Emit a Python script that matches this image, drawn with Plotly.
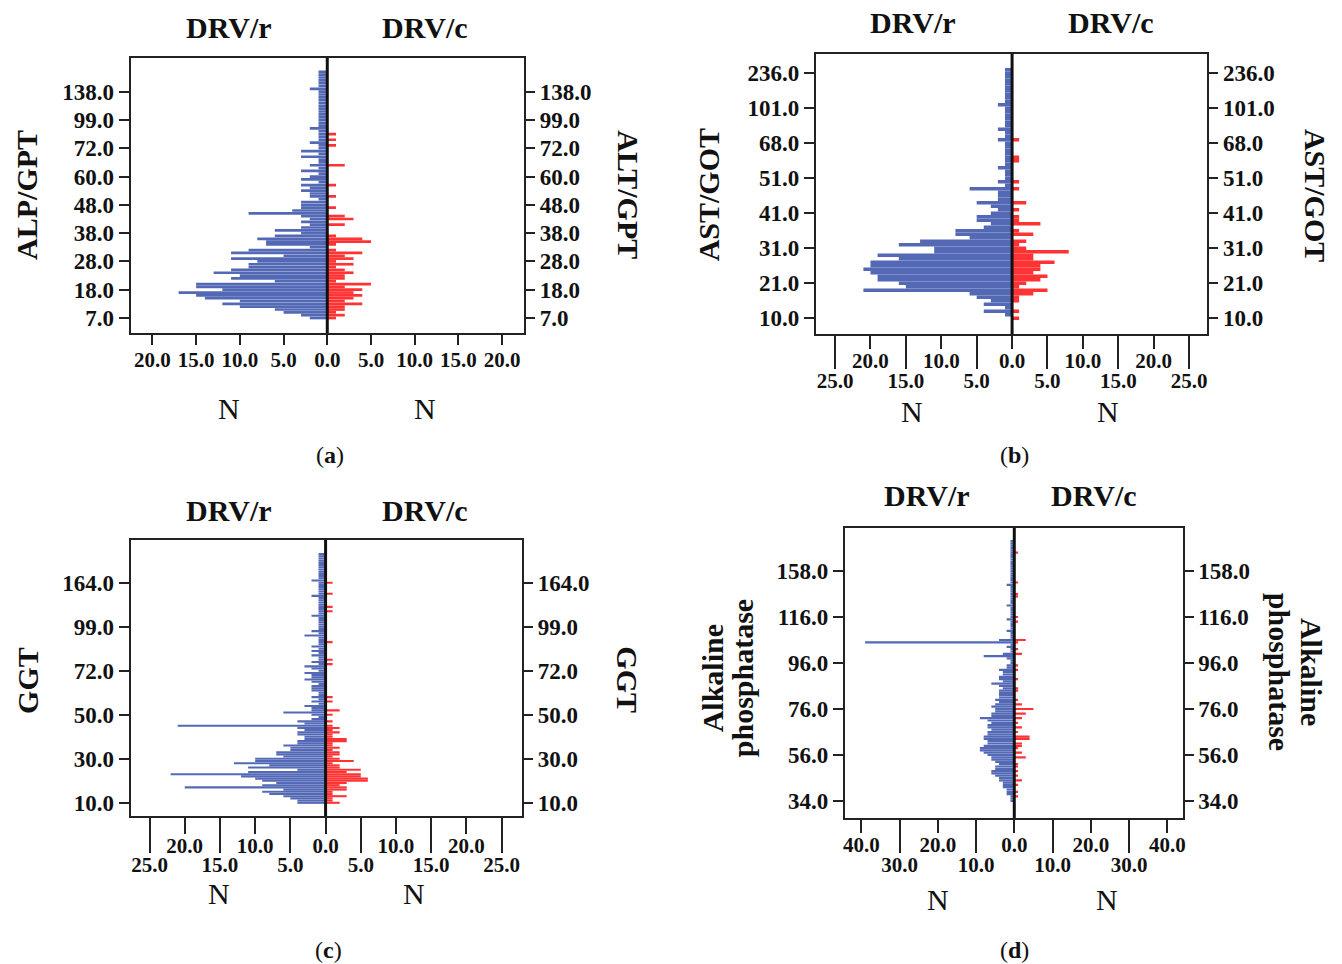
import plotly.graph_objects as go

# ---------------- data (bin index 0 = lowest category) ----------------
# Panel (a) ALT/GPT
A_BLUE = [2,3,5,6,10,12,10,14,15,17, 12,15,15,6,11,10,13,11,9,9,
          8,11,5,11,9,2,7,7,8,6, 3,6,3,2,3,2,3,9,4,3,
          3,3,1,2,2,3,2,3,1,3, 2,1,3,1,2,1,1,3,1,3,
          1,1,2,1,1,1,1,2,1,1, 1,1,1,1,1,1,1,1,1,1,
          1,2,1,1,1,1,1,1]
A_RED = [1,2,1,2,2,4,2,3,4,3, 4,2,5,1,2,2,3,2,1,3,
         1,3,2,4,1,0,1,5,4,1, 0,0,0,2,0,3,2,0,0,1,
         0,0,0,1,0,0,0,1,0,0, 0,0,0,0,2,0,0,0,0,0,
         0,1,0,1,0,1,0,0,0,0, 0,0,0,0,0,0,0,0,0,0,
         0,0,0,0,0,0,0,0]
A_YTICK_IDX = [0,10,20,30,40,50,60,70,80]
A_YTICK_TXT = ["7.0","18.0","28.0","38.0","48.0","60.0","72.0","99.0","138.0"]

# Panel (b) AST/GOT
B_BLUE = [0,1,4,1,4,3,5,6,21,15, 16,19,19,20,21,20,20,16,19,11,
          11,16,13,6,8,8,4,3,5,5, 3,2,3,5,2,2,2,6,1,2,
          1,1,1,2,1,1,1,1,1,1, 1,2,1,1,2,1,1,1,1,1,
          1,2,1,1,1,1,1,1,1,1, 1,1]
B_RED = [1,0,1,0,0,1,1,3,5,1, 2,4,5,3,4,4,6,3,3,8,
         2,1,2,0,3,1,0,4,1,1, 0,1,0,2,0,0,0,1,0,1,
         0,0,0,0,0,1,1,0,0,0, 0,1,0,0,0,0,0,0,0,0,
         0,0,0,0,0,0,0,0,0,0, 0,0]
B_YTICK_IDX = [0,10,20,30,40,50,60,70]
B_YTICK_TXT = ["10.0","21.0","31.0","41.0","51.0","68.0","101.0","236.0"]

# Panel (c) GGT
C_BLUE = [4,4,5,6,8,9,6,20,9,7, 9,10,12,22,11,4,11,8,13,10,
          10,6,7,7,5,5,6,4,4,3, 3,4,4,3,4,21,3,4,2,1,
          2,6,2,2,3,1,2,1,2,1, 1,2,2,2,1,2,3,2,2,3,
          1,2,3,1,2,1,1,2,1,2, 1,2,1,1,1,1,3,1,2,1,
          1,1,1,1,1,2,1,1,1,1, 1,1,1,1,2,1,1,1,1,1,
          1,2,1,1,1,1,1,1,1,1, 1,1,1,1]
C_RED = [2,1,1,3,1,1,3,3,2,3, 6,6,5,5,3,5,2,2,1,4,
         2,1,2,2,1,2,1,1,3,3, 1,1,2,1,2,1,0,1,0,0,
         1,0,2,0,0,0,1,0,1,0, 0,0,0,0,0,0,0,0,0,0,
         0,0,0,1,0,1,0,0,0,0, 0,0,0,1,0,0,0,0,0,0,
         0,0,0,0,0,0,0,1,0,1, 0,0,0,0,0,1,0,0,0,0,
         1,0,0,0,0,0,0,0,0,0, 0,0,0,0]
C_YTICK_IDX = [0,20,40,60,80,100]
C_YTICK_TXT = ["10.0","30.0","50.0","72.0","99.0","164.0"]

# Panel (d) Alkaline phosphatase
D_BLUE = [1,1,1,2,2,2,3,3,3,4, 4,5,6,6,5,5,4,5,6,6,
          7,8,9,9,8,7,7,8,8,7, 7,6,7,7,6,7,9,6,6,5,
          5,6,5,4,5,4,4,4,4,3, 4,6,3,4,4,3,3,4,2,2,
          1,1,2,8,3,1,1,2,1,39, 4,1,1,1,2,1,1,1,1,2,
          1,1,1,1,1,2,1,1,1,1, 1,1,1,1,2,1,1,1,1,1,
          1,1,1,1,1,1,1,1,1,1, 1,1,1,1]
D_RED = [0,0,1,0,1,0,0,1,0,2, 0,1,0,1,0,1,1,0,0,3,
         0,2,0,1,2,2,0,4,4,0, 1,0,2,0,1,0,2,0,3,0,
         5,0,2,0,1,0,0,0,1,1, 0,0,0,1,0,0,0,1,0,1,
         0,0,0,0,2,0,1,0,0,1, 3,0,0,0,0,0,0,0,1,0,
         1,0,0,0,0,0,0,0,0,1, 1,0,0,0,0,1,0,0,0,0,
         0,0,0,0,0,0,0,0,1,0, 0,0,0,0]
D_YTICK_IDX = [0,20,40,60,80,100]
D_YTICK_TXT = ["34.0","56.0","76.0","96.0","116.0","158.0"]

GROUPS = ["DRV/r", "DRV/c"]

# ---------------- styling ----------------
W, H = 1342, 964
BLUE = "#5369b6"
RED = "#ff3333"
FONT = "Liberation Serif"
LINE = "#222222"

def px(x, y):
    return x / W, 1 - y / H

def ref(p, n):
    return p + ("" if n == 1 else str(n))

def key(p, n):
    return p + "axis" + ("" if n == 1 else str(n))

fig = go.Figure()
layout = {}
shapes = []
annotations = []
counter = [0]

def lbl(v):
    return f"{abs(v):.1f}"

def anchor_trace(xa, ya):
    # invisible helper so that the overlaid tick axes get drawn
    fig.add_trace(go.Scatter(x=[0], y=[0], mode="markers", marker=dict(opacity=0),
                             xaxis=xa, yaxis=ya, hoverinfo="skip", showlegend=False))

def add_panel(blue, red, ytick_idx, ytick_txt, xpix, ypix, xrange, yrange,
              short_vals, short_len, long_vals=None, long_len=None, standoff=-6):
    counter[0] += 1
    nx = ny = 2 * counter[0] - 1
    nx2 = ny2 = nx + 1
    idx = list(range(len(blue)))
    fig.add_trace(go.Bar(x=[-v for v in blue], y=idx, orientation="h",
                         marker=dict(color=BLUE, line=dict(width=0)),
                         xaxis=ref("x", nx), yaxis=ref("y", ny),
                         name=GROUPS[0], showlegend=False))
    fig.add_trace(go.Bar(x=list(red), y=list(range(len(red))), orientation="h",
                         marker=dict(color=RED, line=dict(width=0)),
                         xaxis=ref("x", nx), yaxis=ref("y", ny),
                         name=GROUPS[1], showlegend=False))
    xdom = [xpix[0] / W, xpix[1] / W]
    ydom = [1 - ypix[1] / H, 1 - ypix[0] / H]
    yfont = dict(family=FONT, size=23, color="#111", weight="bold")
    xfont = dict(family=FONT, size=21, color="#111", weight="bold")
    layout[key("x", nx)] = dict(
        domain=xdom, range=xrange, anchor=ref("y", ny), showline=True, mirror=True,
        linecolor=LINE, linewidth=2, ticks="outside", ticklen=short_len, tickwidth=2,
        tickcolor=LINE, tickvals=short_vals, ticktext=[lbl(v) for v in short_vals],
        tickfont=xfont, ticklabelstandoff=standoff,
        showgrid=False, zeroline=False, fixedrange=True)
    if long_vals is not None:
        layout[key("x", nx2)] = dict(
            overlaying=ref("x", nx), anchor=ref("y", ny), side="bottom", range=xrange,
            showline=False, ticks="outside", ticklen=long_len, tickwidth=2,
            tickcolor=LINE, tickvals=long_vals, ticktext=[lbl(v) for v in long_vals],
            tickfont=xfont, ticklabelstandoff=standoff,
            showgrid=False, zeroline=False, fixedrange=True)
        anchor_trace(ref("x", nx2), ref("y", ny))
    layout[key("y", ny)] = dict(
        domain=ydom, range=yrange, anchor=ref("x", nx), showline=True, mirror=True,
        linecolor=LINE, linewidth=2, ticks="outside", ticklen=10, tickwidth=2,
        tickcolor=LINE, tickvals=ytick_idx, ticktext=ytick_txt, tickfont=yfont,
        showgrid=False, zeroline=False, fixedrange=True)
    layout[key("y", ny2)] = dict(
        overlaying=ref("y", ny), anchor=ref("x", nx), side="right", range=yrange,
        showline=False, ticks="outside", ticklen=10, tickwidth=2, tickcolor=LINE,
        tickvals=ytick_idx, ticktext=ytick_txt, tickfont=yfont,
        showgrid=False, zeroline=False, fixedrange=True)
    anchor_trace(ref("x", nx), ref("y", ny2))
    shapes.append(dict(type="line", xref=ref("x", nx), yref=ref("y", ny) + " domain",
                       x0=0, x1=0, y0=0, y1=1, layer="above",
                       line=dict(color="#111", width=3)))

def text(s, x, y, size, bold=False, angle=0):
    ax, ay = px(x, y)
    annotations.append(dict(text=s, x=ax, y=ay, xref="paper", yref="paper",
                            showarrow=False, textangle=angle, xanchor="center",
                            yanchor="middle",
                            font=dict(family=FONT, size=size, color="#111",
                                      weight="bold" if bold else "normal")))

# (a)
add_panel(A_BLUE, A_RED, A_YTICK_IDX, A_YTICK_TXT, (129, 524), (58, 333),
          [-22.5, 22.5], [-5.3, 91.9], [-20, -15, -10, -5, 0, 5, 10, 15, 20], 10,
          standoff=-3)
# (b)
add_panel(B_BLUE, B_RED, B_YTICK_IDX, B_YTICK_TXT, (817, 1210), (54, 334),
          [-27.7, 27.6], [-4.5, 75.5], [-20, -10, 0, 10, 20], 13,
          [-25, -15, -5, 5, 15, 25], 34)
# (c)
add_panel(C_BLUE, C_RED, C_YTICK_IDX, C_YTICK_TXT, (129, 522), (540, 816),
          [-27.7, 27.9], [-6.0, 119.4], [-20, -10, 0, 10, 20], 16,
          [-25, -15, -5, 5, 15, 25], 36)
# (d)
add_panel(D_BLUE, D_RED, D_YTICK_IDX, D_YTICK_TXT, (846, 1185), (528, 818),
          [-44.3, 44.0], [-7.4, 118.7], [-40, -20, 0, 20, 40], 13,
          [-30, -10, 10, 30], 34)

# group headings
for (xl, xr, y) in [(228, 425, 27), (914, 1113, 22), (228, 425, 510), (928, 1096, 496)]:
    text(GROUPS[0], xl, y, 30, bold=True)
    text(GROUPS[1], xr, y, 30, bold=True)

# N labels
for (xl, xr, y) in [(228, 425, 408), (913, 1110, 411), (218, 414, 893), (940, 1109, 899)]:
    text("N", xl, y, 30)
    text("N", xr, y, 30)

# axis titles
text("ALP/GPT", 25, 195, 30, bold=True, angle=-90)
text("ALT/GPT", 628, 195, 30, bold=True, angle=90)
text("AST/GOT", 710, 195, 30, bold=True, angle=-90)
text("AST/GOT", 1318, 195, 30, bold=True, angle=90)
text("GGT", 25, 680, 30, bold=True, angle=-90)
text("GGT", 628, 680, 30, bold=True, angle=90)
text("Alkaline", 713, 678, 30, bold=True, angle=-90)
text("phosphatase", 743, 678, 30, bold=True, angle=-90)
text("Alkaline", 1315, 672, 30, bold=True, angle=90)
text("phosphatase", 1283, 672, 30, bold=True, angle=90)

# panel letters
for s, x, y in [("a", 329, 455), ("b", 1016, 455), ("c", 328, 950), ("d", 1016, 950)]:
    text(f"(<b>{s}</b>)", x, y, 24)

fig.update_layout(
    width=W, height=H, margin=dict(l=0, r=0, t=0, b=0),
    paper_bgcolor="white", plot_bgcolor="white",
    barmode="overlay", bargap=0.05, showlegend=False,
    font=dict(family=FONT, color="#111"),
    shapes=shapes, annotations=annotations, **layout)

fig.write_html("out.html")
